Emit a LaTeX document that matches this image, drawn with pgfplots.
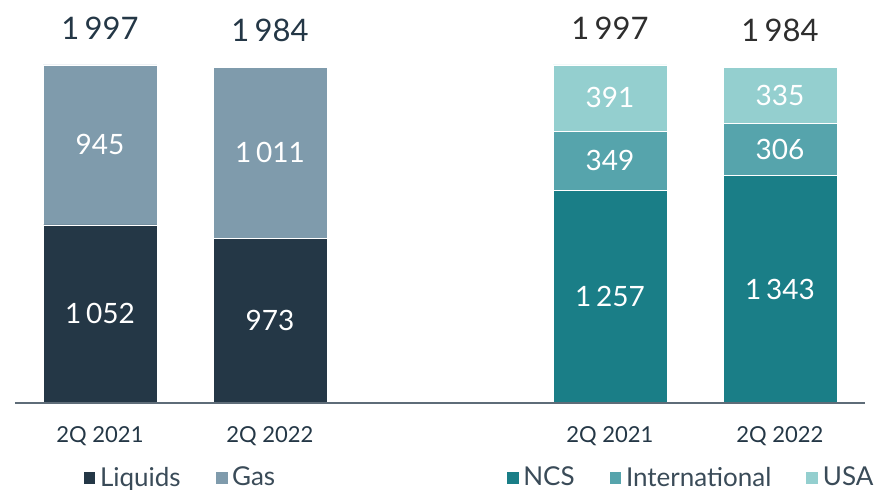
\documentclass[border=0pt]{standalone}
\usepackage{fontspec}
\setmainfont{Lato}
\usepackage{pgfplots}
\pgfplotsset{compat=1.18}
\definecolor{liquids}{HTML}{243746}
\definecolor{gas}{HTML}{7F9BAC}
\definecolor{ncs}{HTML}{1A7E87}
\definecolor{intl}{HTML}{56A4AC}
\definecolor{usa}{HTML}{94CFCF}
\definecolor{navy}{HTML}{243746}
\definecolor{axisgray}{HTML}{5E6C78}
\pgfplotsset{
  base/.style={
    scale only axis, width=425pt, height=201.5pt,
    xmin=-0.5, xmax=4.5, ymin=0, ymax=2380,
    axis y line=none,
    /pgf/number format/assume math mode=true,
    /pgf/number format/1000 sep={\,},
    bar width=0.67,
  },
  sq/.style={legend image code/.code={\fill[##1] (0pt,-3.2pt) rectangle (6.4pt,3.2pt);}},
  segs/.style={
    nodes near coords,
    every node near coord/.append style={white, font=\fontsize{14}{16}\selectfont},
  },
  leg/.style={
    legend style={at={(#1,-0.186)}, anchor=west, draw=none, fill=none,
      legend columns=-1, font=\fontsize{13}{15}\selectfont, text=navy!90,
      /tikz/every even column/.append style={column sep=15pt}},
    legend cell align=left,
  },
}
\begin{document}
\begin{tikzpicture}
% left group: liquids / gas
\begin{axis}[base, ybar stacked, axis x line=none, segs, sq, leg=0.072]
\addplot[fill=liquids, draw=white, line width=0.3pt] coordinates {(0,1052) (1,973)};
\addplot[fill=gas, draw=white, line width=0.3pt] coordinates {(0,945) (1,1011)};
\legend{Liquids, Gas}
\coordinate (o) at (rel axis cs:0,0);
\end{axis}
% right group: NCS / International / USA
\begin{axis}[base, ybar stacked, axis x line=none, segs, sq, leg=0.570]
\addplot[fill=ncs, draw=white, line width=0.3pt] coordinates {(3,1257) (4,1343)};
\addplot[fill=intl, draw=white, line width=0.3pt] coordinates {(3,349) (4,306)};
\addplot[fill=usa, draw=white, line width=0.3pt] coordinates {(3,391) (4,335)};
\legend{NCS, International, USA}
\end{axis}
% totals and the x axis
\begin{axis}[base, axis x line*=bottom,
  axis line style={axisgray, line width=0.75pt},
  xtick={0,1,3,4}, xticklabels={2Q 2021, 2Q 2022, 2Q 2021, 2Q 2022},
  major tick length=0pt,
  xticklabel style={font=\fontsize{11}{13}\selectfont, text=navy, yshift=-8pt},
  nodes near coords,
  every node near coord/.append style={font=\fontsize{15.5}{18}\selectfont, anchor=south, yshift=9pt},
]
\addplot[draw=none, mark=none, nodes near coords, every node near coord/.append style={text=navy}] coordinates {(0,1997) (1,1984)};
\addplot[draw=none, mark=none, nodes near coords, every node near coord/.append style={text=black!82}] coordinates {(3,1997) (4,1984)};
\end{axis}
\pgfresetboundingbox
\path[use as bounding box] (o) ++(-7.5pt,-43pt) rectangle ++(442pt,244.5pt);
\end{tikzpicture}
\end{document}
